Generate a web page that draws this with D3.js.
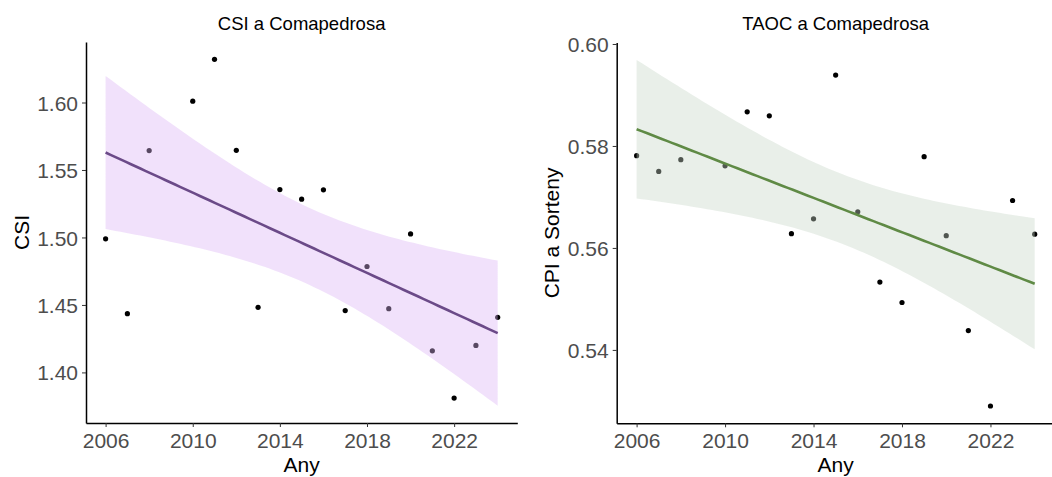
<!DOCTYPE html>
<html>
<head>
<meta charset="utf-8">
<script src="https://cdn.jsdelivr.net/npm/d3@7"></script>
<style>
  body { margin: 0; background: #fff; }
  svg { display: block; font-family: "Liberation Sans", Arial, sans-serif; }
  .tick-label { fill: #4d4d4d; font-size: 21px; }
  .axis-title { fill: #000; font-size: 21px; }
  .plot-title { fill: #000; font-size: 18.5px; }
</style>
</head>
<body>
<svg id="chart" width="1052" height="477"></svg>
<script>
// yearly values (no 2009 sample)
const years = [2006, 2007, 2008, 2010, 2011, 2012, 2013, 2014, 2015, 2016, 2017, 2018, 2019, 2020, 2021, 2022, 2023, 2024];
const csiValues = [1.499, 1.4435, 1.5644, 1.601, 1.632, 1.5646, 1.4482, 1.5355, 1.5284, 1.5353, 1.4458, 1.4785, 1.4472, 1.5026, 1.416, 1.381, 1.42, 1.4408];
const cpiValues = [0.5781, 0.575, 0.5773, 0.5761, 0.5867, 0.5859, 0.5628, 0.5657, 0.5939, 0.5671, 0.5533, 0.5493, 0.5779, 0.5624, 0.5438, 0.529, 0.5693, 0.5627];

const xTicks = [2006, 2010, 2014, 2018, 2022];
const csiTicks = [1.40, 1.45, 1.50, 1.55, 1.60];
const cpiTicks = [0.54, 0.56, 0.58, 0.60];

const svg = d3.select("#chart");

// t quantile 0.975, df = n - 2 = 16
const T975 = 2.1199;

// ordinary least squares + 95% confidence band (like geom_smooth(method = "lm"))
const fitLm = (xs, ys) => {
  const n = xs.length;
  const xm = d3.mean(xs);
  const ym = d3.mean(ys);
  const sxx = d3.sum(xs, (x) => (x - xm) ** 2);
  const sxy = d3.sum(xs, (x, i) => (x - xm) * (ys[i] - ym));
  const slope = sxy / sxx;
  const icpt = ym - slope * xm;
  const sse = d3.sum(xs, (x, i) => (ys[i] - (icpt + slope * x)) ** 2);
  const s = Math.sqrt(sse / (n - 2));
  const grid = d3.range(80).map((i) => d3.min(xs) + (i / 79) * (d3.max(xs) - d3.min(xs)));
  return grid.map((x) => {
    const fit = icpt + slope * x;
    const se = s * Math.sqrt(1 / n + (x - xm) ** 2 / sxx);
    return { x, fit, lo: fit - T975 * se, hi: fit + T975 * se };
  });
};

const drawPanel = (opts) => {
  const { values, left, right, top, bottom, title, yLabel, yLabelX, yTicks, ribbonFill, lineColour } = opts;
  const band = fitLm(years, values);

  // ggplot-style 5% expansion
  const xPad = (d3.max(years) - d3.min(years)) * 0.05;
  const yMin = Math.min(d3.min(values), d3.min(band, (d) => d.lo));
  const yMax = Math.max(d3.max(values), d3.max(band, (d) => d.hi));
  const yPad = (yMax - yMin) * 0.05;

  const x = d3.scaleLinear().domain([d3.min(years) - xPad, d3.max(years) + xPad]).range([left, right]);
  const y = d3.scaleLinear().domain([yMin - yPad, yMax + yPad]).range([bottom, top]);

  const g = svg.append("g");

  // points first, the band sits on top of them
  g.selectAll(".pt")
    .data(years.map((yr, i) => ({ yr, v: values[i] })))
    .join("circle")
    .attr("class", "pt")
    .attr("cx", (d) => x(d.yr))
    .attr("cy", (d) => y(d.v))
    .attr("r", 2.6)
    .attr("fill", "#000");

  g.append("path")
    .datum(band)
    .attr("fill", ribbonFill)
    .attr("fill-opacity", 0.4)
    .attr("d", d3.area().x((d) => x(d.x)).y0((d) => y(d.lo)).y1((d) => y(d.hi)));

  g.append("path")
    .datum(band)
    .attr("fill", "none")
    .attr("stroke", lineColour)
    .attr("stroke-width", 2.6)
    .attr("d", d3.line().x((d) => x(d.x)).y((d) => y(d.fit)));

  // axes
  const xAxis = g.append("g")
    .attr("transform", `translate(0,${bottom})`)
    .call(d3.axisBottom(x).tickValues(xTicks).tickFormat(d3.format("d")).tickSizeInner(4).tickSizeOuter(0).tickPadding(6));
  const yAxis = g.append("g")
    .attr("transform", `translate(${left},0)`)
    .call(d3.axisLeft(y).tickValues(yTicks).tickFormat(d3.format(".2f")).tickSizeInner(4).tickSizeOuter(0).tickPadding(4));

  [xAxis, yAxis].forEach((a) => {
    a.select(".domain").attr("stroke", "#000").attr("stroke-width", 1.5);
    a.selectAll(".tick line").attr("stroke", "#333").attr("stroke-width", 1);
    a.selectAll(".tick text").attr("class", "tick-label").attr("font-size", null).attr("font-family", null);
  });
  yAxis.selectAll(".tick text").attr("dy", "0.36em");
  xAxis.selectAll(".tick text").attr("dy", "0.72em");

  g.append("text")
    .attr("class", "plot-title")
    .attr("x", (left + right) / 2)
    .attr("y", 29.5)
    .attr("text-anchor", "middle")
    .text(title);

  g.append("text")
    .attr("class", "axis-title")
    .attr("x", (left + right) / 2)
    .attr("y", 471.5)
    .attr("text-anchor", "middle")
    .text("Any");

  g.append("text")
    .attr("class", "axis-title")
    .attr("transform", `translate(${yLabelX},${(top + bottom) / 2}) rotate(-90)`)
    .attr("text-anchor", "middle")
    .text(yLabel);
};

drawPanel({
  values: csiValues,
  left: 86, right: 517.3, top: 42, bottom: 423,
  title: "CSI a Comapedrosa",
  yLabel: "CSI", yLabelX: 28.5,
  yTicks: csiTicks,
  ribbonFill: "#dcb4f4",
  lineColour: "#6b4a88",
});

drawPanel({
  values: cpiValues,
  left: 616.7, right: 1054.6, top: 42.6, bottom: 423.3,
  title: "TAOC a Comapedrosa",
  yLabel: "CPI a Sorteny", yLabelX: 558.5,
  yTicks: cpiTicks,
  ribbonFill: "#c8d6c8",
  lineColour: "#5f8a45",
});
</script>
</body>
</html>
